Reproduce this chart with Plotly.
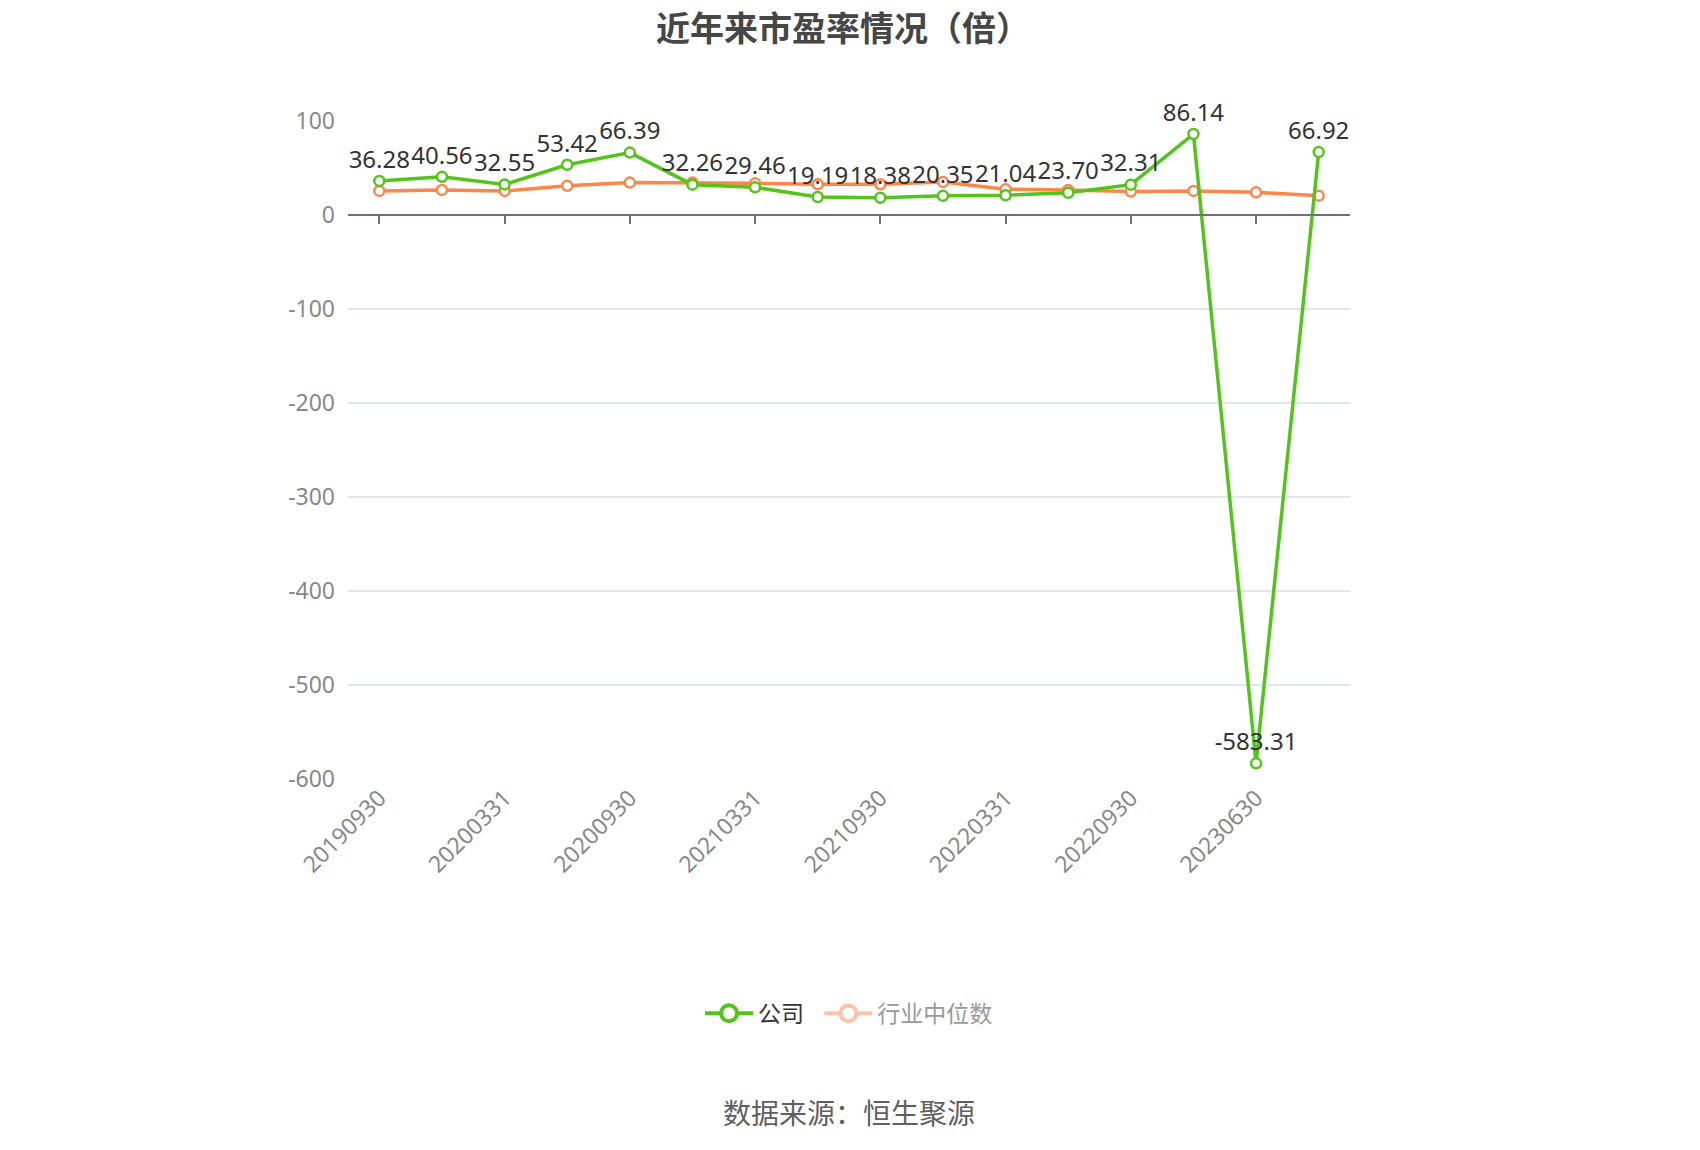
import plotly.graph_objects as go

categories = ["20190930", "20191231", "20200331", "20200630", "20200930", "20201231",
              "20210331", "20210630", "20210930", "20211231", "20220331", "20220630",
              "20220930", "20221231", "20230630", "20230930"]
company_pe = [36.28, 40.56, 32.55, 53.42, 66.39, 32.26, 29.46, 19.19, 18.38, 20.35,
              21.04, 23.70, 32.31, 86.14, -583.31, 66.92]
industry_pe = [25.6, 26.7, 25.6, 31.0, 34.5, 34.5, 33.7, 32.7, 32.7, 35.2,
               27.4, 26.7, 24.9, 25.6, 24.1, 20.6]
tick_labels = categories[::2]
y_ticks = [100, 0, -100, -200, -300, -400, -500, -600]

GREEN = "#52C41A"
ORANGE = "#FF8548"
NUM_FONT = "Noto Sans, Noto Sans CJK SC"
CJK_FONT = "Noto Sans CJK SC"

fig = go.Figure()

fig.add_trace(go.Scatter(
    x=categories, y=industry_pe, mode="lines+markers",
    line=dict(color=ORANGE, width=3.5),
    marker=dict(symbol="circle", size=10, color="white", line=dict(color=ORANGE, width=2.5)),
    showlegend=False, hoverinfo="skip"))

fig.add_trace(go.Scatter(
    x=categories, y=company_pe, mode="lines+markers+text",
    line=dict(color=GREEN, width=3.5),
    marker=dict(symbol="circle", size=10, color="white", line=dict(color=GREEN, width=2.5)),
    text=[f"{v:.2f}" for v in company_pe], textposition="top center",
    textfont=dict(family=NUM_FONT, size=24, color="#333333"),
    cliponaxis=False, showlegend=False, hoverinfo="skip"))

# legend-only entries
fig.add_trace(go.Scatter(
    x=[None], y=[None], mode="lines+markers", name="公司\u00a0\u00a0",
    line=dict(color=GREEN, width=4),
    marker=dict(symbol="circle", size=16, color="white", line=dict(color=GREEN, width=4))))
fig.add_trace(go.Scatter(
    x=[None], y=[None], mode="lines+markers",
    name='<span style="color:#999999">行业中位数</span>',
    line=dict(color="#FFC2A8", width=4),
    marker=dict(symbol="circle", size=16, color="white", line=dict(color="#FFC2A8", width=4))))

# dummy trace carrying the axis drawn at zero
fig.add_trace(go.Scatter(
    x=categories, y=industry_pe, xaxis="x2", mode="lines",
    line=dict(width=0), opacity=0, showlegend=False, hoverinfo="skip"))

fig.update_layout(
    width=1700, height=1150,
    margin=dict(l=348, r=350, t=121, b=371),
    paper_bgcolor="white", plot_bgcolor="white",
    font=dict(family=CJK_FONT, color="#333333"),
    title=dict(text="<b>近年来市盈率情况（倍）</b>", x=843 / 1700, xref="container", xanchor="center",
               y=1 - 29 / 1150, yref="container", yanchor="middle",
               font=dict(family=CJK_FONT, size=34, color="#464646")),
    xaxis=dict(type="category", categoryorder="array", categoryarray=categories,
               range=[-0.5, len(categories) - 0.5],
               tickmode="array", tickvals=tick_labels, ticktext=tick_labels,
               tickangle=-45, ticks="", showline=False, showgrid=False, zeroline=False,
               tickfont=dict(family=NUM_FONT, size=23, color="#888888")),
    xaxis2=dict(type="category", categoryorder="array", categoryarray=categories,
                matches="x", overlaying="x", anchor="free", position=6 / 7, side="bottom",
                tickmode="array", tickvals=tick_labels, showticklabels=False,
                ticks="outside", ticklen=8, tickwidth=1.5, tickcolor="#6E7079",
                showline=True, linecolor="#6E7079", linewidth=2, showgrid=False, zeroline=False),
    yaxis=dict(range=[-600, 100], tickmode="array", tickvals=y_ticks,
               ticktext=[str(v) for v in y_ticks],
               showgrid=True, gridcolor="#E0E6F1", gridwidth=1.5, zeroline=False,
               showline=False, ticks="", ticklabelstandoff=12,
               tickfont=dict(family=NUM_FONT, size=23, color="#888888")),
    legend=dict(orientation="h", x=0.5, xanchor="center", y=-0.356, yanchor="middle",
                font=dict(family=CJK_FONT, size=23, color="#333333"), itemwidth=48,
                traceorder="normal"),
    annotations=[dict(text="数据来源：恒生聚源", x=0.5, y=-0.506, xref="paper", yref="paper",
                      xanchor="center", yanchor="middle", showarrow=False,
                      font=dict(family=CJK_FONT, size=28, color="#5F5F5F"))],
)

fig.write_html("out.html", config={"displayModeBar": False},
               post_script="document.body.style.margin='0';document.body.style.overflow='hidden';")
